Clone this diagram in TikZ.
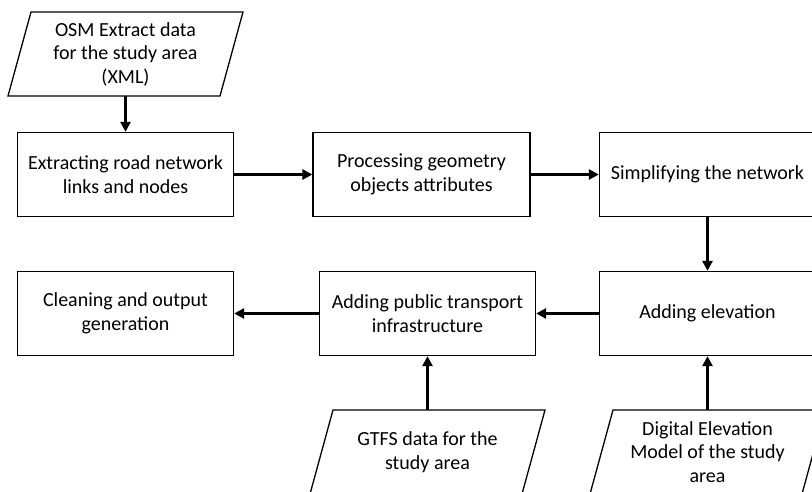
\documentclass[tikz,border=0pt]{standalone}
\usepackage{fontspec}
\setmainfont{Carlito}
\usetikzlibrary{arrows.meta,calc}
\newcommand\ioshape[1]{\draw[line width=1.3pt] ($(#1.center)+(-94.5,-42)$) -- ($(#1.center)+(117.5,-42)$) -- ($(#1.center)+(94.5,42)$) -- ($(#1.center)+(-117.5,42)$) -- cycle;}
\begin{document}
\begin{tikzpicture}[x=1pt,y=-1pt,
  txt/.style={align=center, font=\fontsize{20}{23.5}\selectfont, text=black},
  box/.style={txt, draw, line width=1.3pt, minimum width=216pt, minimum height=84pt, inner sep=0pt},
  io/.style={txt, minimum width=212pt, minimum height=84pt, inner sep=0pt},
  arr/.style={line width=3pt, -{Triangle[length=10pt,width=10pt]}}]
\useasboundingbox (0,0) rectangle (812,492);
\clip (0,0) rectangle (812,492);
\fill[white] (0,0) rectangle (812,492);

\node[io] (osm) at (125.5,54) {OSM Extract data\\for the study area\\(XML)};
\ioshape{osm}
\node[box] (b1) at (125.5,174.5) {Extracting road network\\links and nodes};
\node[box, minimum width=217pt] (b2) at (421.5,174.5) {Processing geometry\\objects attributes};
\node[box] (b3) at (707.5,174.5) {Simplifying the network};
\node[box] (b4) at (707.5,313.5) {Adding elevation};
\node[box] (b5) at (427.5,313.5) {Adding public transport\\infrastructure};
\node[box] (b6) at (125.5,313.5) {Cleaning and output\\generation};
\node[io] (gtfs) at (427.5,452) {GTFS data for the\\study area};
\ioshape{gtfs}
\node[io] (dem) at (707.5,452) {Digital Elevation\\Model of the study\\area};
\ioshape{dem}

\draw[arr] (osm.south) -- (b1.north);
\draw[arr] (b1.east) -- (b2.west);
\draw[arr] (b2.east) -- (b3.west);
\draw[arr] (b3.south) -- (b4.north);
\draw[arr] (b4.west) -- (b5.east);
\draw[arr] (b5.west) -- (b6.east);
\draw[arr] (gtfs.north) -- (b5.south);
\draw[arr] (dem.north) -- (b4.south);
\end{tikzpicture}
\end{document}
